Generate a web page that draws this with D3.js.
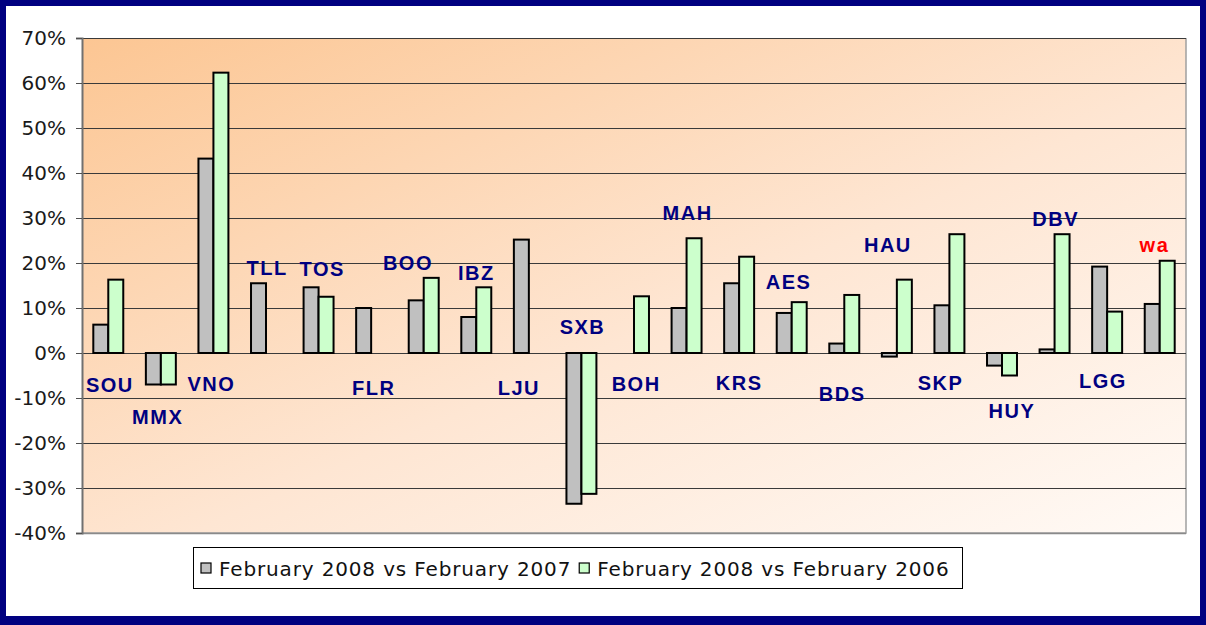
<!DOCTYPE html>
<html>
<head>
<meta charset="utf-8">
<script src="https://cdn.jsdelivr.net/npm/d3@7"></script>
<style>
  body { margin: 0; background: #fff; }
  svg { display: block; }
  .tick-label { font-family: "DejaVu Sans", Verdana, sans-serif; font-size: 20px; fill: #1a1a1a; }
  .cat-label { font-family: "Liberation Sans", Arial, sans-serif; font-weight: bold; font-size: 20px; letter-spacing: 1.5px; fill: #000080; }
  .legend-text { font-family: "DejaVu Sans", sans-serif; font-size: 20px; letter-spacing: 0.85px; fill: #111; }
</style>
</head>
<body>
<div id="chart"></div>
<script>
// airports and % change of February 2008 traffic
const categories = ['SOU', 'MMX', 'VNO', 'TLL', 'TOS', 'FLR', 'BOO', 'IBZ', 'LJU', 'SXB', 'BOH',
  'MAH', 'KRS', 'AES', 'BDS', 'HAU', 'SKP', 'HUY', 'DBV', 'LGG', 'wa'];
const vs2007 = [6.3, -7.0, 43.2, 15.5, 14.6, 10.0, 11.7, 8.0, 25.2, -33.5, null,
  10.0, 15.5, 8.9, 2.1, -0.8, 10.6, -2.8, 0.8, 19.2, 10.9];
const vs2006 = [16.3, -7.0, 62.3, null, 12.5, null, 16.7, 14.6, null, -31.3, 12.6,
  25.5, 21.4, 11.3, 12.9, 16.3, 26.4, -5.0, 26.4, 9.2, 20.5];
const seriesNames = ['February 2008 vs February 2007', 'February 2008 vs February 2006'];
const yTicks = [-40, -30, -20, -10, 0, 10, 20, 30, 40, 50, 60, 70];
// where each airport name sits, in % units on the value axis
const labelAt = [-7.2, -14.3, -6.8, 18.8, 18.6, -7.7, 19.9, 17.7, -7.7, 5.7, -6.8,
  31.2, -6.6, 15.7, -9.0, 24.1, -6.6, -12.8, 29.7, -6.3, 24.1];

// small horizontal nudges of the names (fraction of a category step)
const labelNudge = [0.03, -0.06, -0.04, 0.02, 0.07, 0.05, -0.3, 0, -0.19, 0.02, 0.04,
  0.02, 0, -0.06, -0.04, -0.17, -0.17, 0.19, 0.02, -0.08, -0.1];

const W = 1206, H = 625;
const plot = { left: 82, right: 1186, top: 38, bottom: 533 };

const svg = d3.select('#chart').append('svg')
  .attr('width', W)
  .attr('height', H);

const defs = svg.append('defs');
const grad = defs.append('linearGradient')
  .attr('id', 'bg')
  .attr('x1', 0).attr('y1', 0).attr('x2', 1).attr('y2', 1);
grad.append('stop').attr('offset', '0%').attr('stop-color', '#fcc693');
grad.append('stop').attr('offset', '55%').attr('stop-color', '#fee6d3');
grad.append('stop').attr('offset', '100%').attr('stop-color', '#fffaf6');

// outer frame
svg.append('rect')
  .attr('x', 3).attr('y', 3)
  .attr('width', W - 6).attr('height', H - 8)
  .attr('fill', '#fff')
  .attr('stroke', '#000080')
  .attr('stroke-width', 6);
svg.append('rect')
  .attr('x', W - 6).attr('y', 0).attr('width', 6).attr('height', H).attr('fill', '#000080');
svg.append('rect')
  .attr('x', 0).attr('y', H - 9).attr('width', W).attr('height', 9).attr('fill', '#000080');

const x = d3.scaleBand()
  .domain(categories)
  .range([plot.left, plot.right])
  .paddingInner(0.43)
  .paddingOuter(0.215);

const xSub = d3.scaleBand()
  .domain([0, 1])
  .range([0, x.bandwidth()]);

const y = d3.scaleLinear()
  .domain([-40, 70])
  .range([plot.bottom, plot.top]);

svg.append('rect')
  .attr('x', plot.left)
  .attr('y', plot.top)
  .attr('width', plot.right - plot.left)
  .attr('height', plot.bottom - plot.top)
  .attr('fill', 'url(#bg)');

// plot border (right / bottom)
svg.append('path')
  .attr('d', `M${plot.right},${plot.top}V${plot.bottom}H${plot.left}`)
  .attr('fill', 'none')
  .attr('stroke', '#a0a0a0')
  .attr('stroke-width', 1.5);

// gridlines
svg.append('g')
  .selectAll('line')
  .data(yTicks)
  .join('line')
  .attr('x1', plot.left)
  .attr('x2', plot.right)
  .attr('y1', d => Math.round(y(d)) + 0.5)
  .attr('y2', d => Math.round(y(d)) + 0.5)
  .attr('stroke', d => d === -40 ? '#8a8a8a' : '#3a3a3a')
  .attr('stroke-width', d => d === -40 ? 1.5 : 1);

// value axis
const yAxis = svg.append('g')
  .attr('transform', `translate(${plot.left},0)`)
  .call(d3.axisLeft(y).tickValues(yTicks).tickSize(6).tickPadding(10).tickFormat(d => d + '%'));
yAxis.select('.domain').attr('stroke', '#707070').attr('stroke-width', 2);
yAxis.selectAll('.tick line').attr('stroke', '#505050');
yAxis.selectAll('.tick text')
  .attr('class', 'tick-label')
  .attr('font-size', null)
  .attr('font-family', null)
  .attr('fill', null);
yAxis.attr('font-size', null).attr('font-family', null);

// bars
const series = [
  { values: vs2007, fill: '#c0c0c0' },
  { values: vs2006, fill: '#ccffcc' }
];
const barData = [];
series.forEach((s, si) => {
  s.values.forEach((v, i) => {
    if (v !== null) barData.push({ cat: categories[i], v, si, fill: s.fill });
  });
});

svg.append('g')
  .selectAll('rect')
  .data(barData)
  .join('rect')
  .attr('x', d => x(d.cat) + xSub(d.si))
  .attr('width', xSub.bandwidth())
  .attr('y', d => y(Math.max(0, d.v)))
  .attr('height', d => Math.abs(y(d.v) - y(0)))
  .attr('fill', d => d.fill)
  .attr('stroke', '#000')
  .attr('stroke-width', 2);

// airport names
svg.append('g')
  .selectAll('text')
  .data(categories)
  .join('text')
  .attr('class', 'cat-label')
  .attr('x', (d, i) => x(d) + x.bandwidth() / 2 + labelNudge[i] * x.step())
  .attr('y', (d, i) => y(labelAt[i]))
  .attr('text-anchor', 'middle')
  .attr('dominant-baseline', 'central')
  .style('fill', d => d === 'wa' ? '#ff0000' : null)
  .text(d => d);

// legend
const legend = svg.append('g').attr('transform', 'translate(193,547)');
legend.append('rect')
  .attr('x', 0.5).attr('y', 0.5)
  .attr('width', 769).attr('height', 41)
  .attr('fill', '#fff')
  .attr('stroke', '#000');
let lx = 8;
seriesNames.forEach((name, i) => {
  const g = legend.append('g').attr('transform', `translate(${lx},0)`);
  g.append('rect')
    .attr('x', 0).attr('y', 16)
    .attr('width', 10).attr('height', 10)
    .attr('fill', series[i].fill)
    .attr('stroke', '#000')
    .attr('stroke-width', 1.2);
  const t = g.append('text')
    .attr('class', 'legend-text')
    .attr('x', 18)
    .attr('y', 29)
    .text(name);
  lx += 18 + t.node().getComputedTextLength() + 8;
});
</script>
</body>
</html>
